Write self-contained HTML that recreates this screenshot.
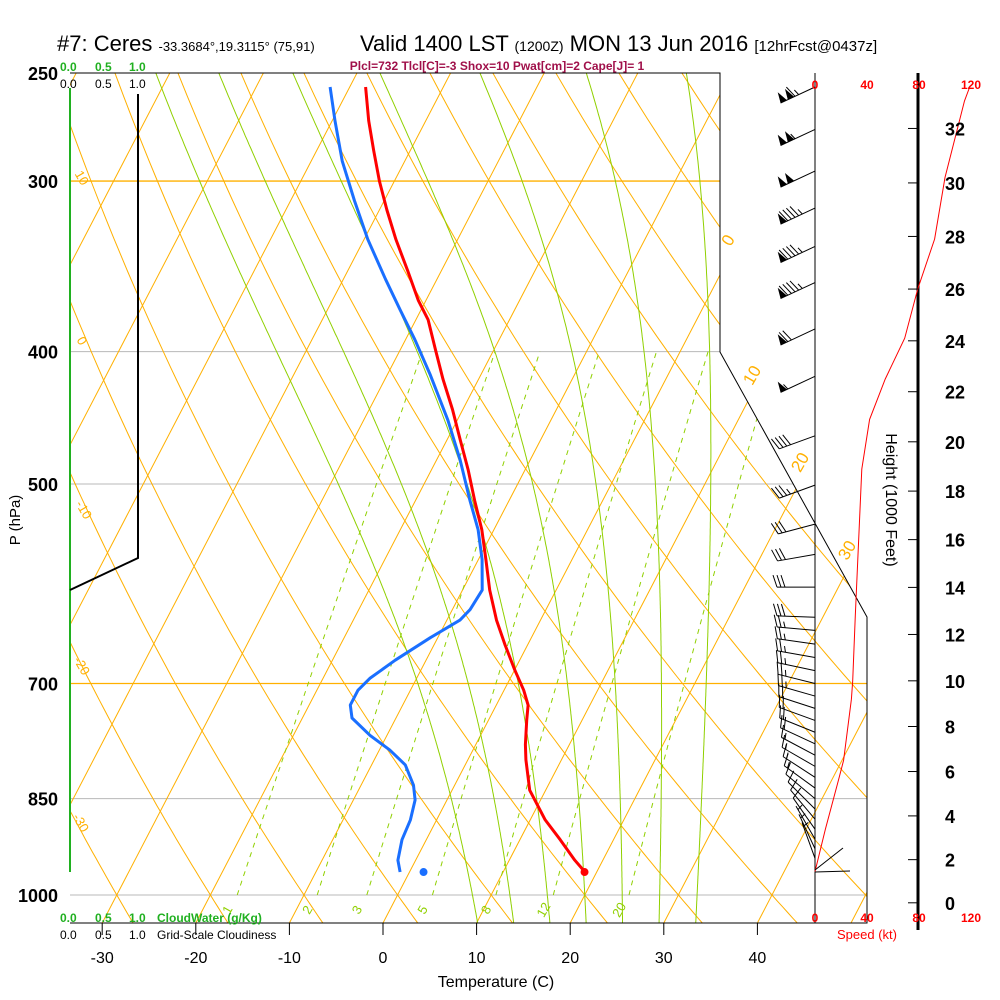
<!DOCTYPE html>
<html><head><meta charset="utf-8"><style>
html,body{margin:0;padding:0;background:#fff;}
svg{display:block;font-family:"Liberation Sans",Arial,sans-serif;}
</style></head><body>
<svg id="chart" width="1000" height="1000" viewBox="0 0 1000 1000" xmlns="http://www.w3.org/2000/svg">
<defs><clipPath id="plotclip"><polygon points="70,73 720,73 720,352 867,617 867,923 70,923"/></clipPath></defs>
<g>
<text x="57" y="51" font-size="22">#7: Ceres <tspan font-size="13">-33.3684°,19.3115° (75,91)</tspan></text>
<text x="360" y="51" font-size="22">Valid 1400 LST <tspan font-size="14">(1200Z)</tspan> MON 13 Jun 2016 <tspan font-size="15">[12hrFcst@0437z]</tspan></text>
<text x="497" y="70" font-size="12" font-weight="bold" fill="#a0104a" text-anchor="middle">Plcl=732 Tlcl[C]=-3 Shox=10 Pwat[cm]=2 Cape[J]= 1</text>
</g>
<g id="grid" clip-path="url(#plotclip)"></g>
<g id="frame">
<polyline points="70,73 720,73 720,352 867,617 867,923 70,923" fill="none" stroke="#000" stroke-width="1"/>
<line x1="815" y1="73" x2="815" y2="923" stroke="#000" stroke-width="1"/>
<line x1="918" y1="73" x2="918" y2="930" stroke="#000" stroke-width="3"/>
</g>
<g id="profiles"></g>
<g id="winds"></g>
<g id="axes"></g>
<g>
<text x="60" y="71" font-size="12" font-weight="bold" fill="#20b020">0.0</text>
<text x="95" y="71" font-size="12" font-weight="bold" fill="#20b020">0.5</text>
<text x="129" y="71" font-size="12" font-weight="bold" fill="#20b020">1.0</text>
<text x="60" y="88" font-size="12" fill="#000">0.0</text>
<text x="95" y="88" font-size="12" fill="#000">0.5</text>
<text x="129" y="88" font-size="12" fill="#000">1.0</text>
<line x1="70" y1="88" x2="70" y2="872" stroke="#20b020" stroke-width="2"/>
<polyline points="138,94 138,558 70,590" fill="none" stroke="#000" stroke-width="2"/>
<text x="60" y="922" font-size="12" font-weight="bold" fill="#20b020">0.0</text>
<text x="95" y="922" font-size="12" font-weight="bold" fill="#20b020">0.5</text>
<text x="129" y="922" font-size="12" font-weight="bold" fill="#20b020">1.0</text>
<text x="157" y="922" font-size="12" font-weight="bold" fill="#20b020">CloudWater (g/Kg)</text>
<text x="60" y="939" font-size="12" fill="#000">0.0</text>
<text x="95" y="939" font-size="12" fill="#000">0.5</text>
<text x="129" y="939" font-size="12" fill="#000">1.0</text>
<text x="157" y="939" font-size="12" fill="#000">Grid-Scale Cloudiness</text>
</g>
<script>
// ---- data ----
const tempP  = [962,943,911,881,838,796,776,745,726,708,684,656,629,598,568,540,514,488,464,441,419,399,379,367,349,331,315,300,285,271,256];
const tempT  = [18.75,17.0,14.3,11.6,8.3,6.2,5.3,4.1,3.4,2.1,0.0,-2.4,-4.7,-7.1,-9.2,-11.3,-13.7,-16.1,-18.6,-21.1,-23.8,-26.2,-28.7,-30.8,-33.6,-36.6,-39.2,-41.6,-43.9,-46.1,-48.3];
const dewP   = [962,943,911,881,852,831,803,783,764,742,726,708,694,673,648,629,618,598,568,540,514,480,449,416,392,373,354,331,310,290,271,256];
const dewT   = [-1.0,-1.9,-2.6,-2.8,-3.4,-4.4,-6.4,-8.9,-11.8,-14.7,-15.6,-15.6,-15.0,-13.3,-10.8,-8.6,-8.1,-7.9,-9.6,-11.7,-14.2,-17.5,-21.0,-25.4,-29.0,-32.2,-35.5,-39.6,-43.2,-46.7,-49.7,-52.1];
const sfcP = 962, sfcT = 18.7, sfcTd = 1.5;
const spdH   = [1.45,3.4,5.6,6.5,9.2,10.0,12.8,17.7,18.9,20.9,22.5,24.1,26.0,27.9,30.2,33.0,33.5];
const spdKt  = [0,8,18,22,28,29,31,35,36,42,54,69,79,92,100,115,119];
const barbP  = [256,275,295,314,335,356,385,417,461,501,535,563,595,626,640,655,670,685,700,715,730,745,760,775,790,805,820,835,850,865,880,895,910,925,940];
const barbDir= [245,245,245,245,245,245,245,245,250,250,255,260,270,272,275,278,280,282,284,286,288,290,292,295,298,300,303,306,310,315,320,325,330,335,340];
const barbSpd= [115,105,100,95,95,95,70,55,40,35,30,30,30,30,25,25,25,25,25,25,20,20,20,20,15,15,15,15,10,10,10,10,5,5,5];
const pLevels = [250,300,400,500,700,850,1000];
const tTicks  = [-30,-20,-10,0,10,20,30,40];
const hTicks  = [0,2,4,6,8,10,12,14,16,18,20,22,24,26,28,30,32];
const spdTicks= [0,40,80,120];
const isoT    = [-120,-110,-100,-90,-80,-70,-60,-50,-40,-30,-20,-10,0,10,20,30,40,50];
const thetaC  = [-40,-30,-20,-10,0,10,20,30,40,50,60,70,80,90,100,110,120,130,140,150,160,170,180];
const thetaW  = [8,12,16,20,24,28,32];
const mixR    = [1,2,3,5,8,12,20];

// ---- scales ----
const NS="http://www.w3.org/2000/svg";
function Y(p){return 895-593*Math.log(1000/p);}
function X(T,p){return 383+9.36*T+0.52*(923-Y(p));}
function hToP(hkft){const m=hkft*304.8;return 1013.25*Math.pow(1-m/44330,5.255);}
function HY(h){return Y(hToP(h));}
function SX(s){return 815+s*1.3;}
function mk(tag,attrs,parent){const e=document.createElementNS(NS,tag);for(const k in attrs)e.setAttribute(k,attrs[k]);parent.appendChild(e);return e;}
const grid=document.getElementById('grid'), prof=document.getElementById('profiles'), winds=document.getElementById('winds'), axes=document.getElementById('axes');
function pathFrom(pts){return pts.map((q,i)=>(i?'L':'M')+q[0].toFixed(1)+','+q[1].toFixed(1)).join(' ');}

pLevels.forEach(p=>{
  const orange=(p===300||p===700);
  if(p===250)return;
  const l=mk('line',{x1:70,y1:Y(p),x2:870,y2:Y(p),stroke:orange?'#ffb000':'#b8b8b8','stroke-width':orange?1.3:1},grid);
  
  
});
isoT.forEach(t=>{
  const l=mk('line',{x1:X(t,1100),y1:Y(1100),x2:X(t,240),y2:Y(240),stroke:'#ffb000','stroke-width':1},grid);
  
  
});
thetaC.forEach(th=>{
  const pts=[];for(let p=1100;p>=240;p-=10){const T=(th+273.15)*Math.pow(p/1000,0.2857)-273.15;pts.push([X(T,p),Y(p)]);}
  const e=mk('path',{d:pathFrom(pts),fill:'none',stroke:'#ffb000','stroke-width':1},grid);
  
  
});
function rs(T,p){const es=6.112*Math.exp(17.67*(T-273.15)/(T-29.65));return 0.622*es/(p-es);}
function dTdp(T,p){const r=rs(T,p);return (287*T+2.5e6*r)/(p*(1005+2.5e6*2.5e6*r*0.622/(287*T*T)));}
thetaW.forEach(tw=>{
  const up=[];let T=tw+273.15;
  for(let p=1000;p>=240;p-=2){up.push([X(T-273.15,p),Y(p)]);T+=dTdp(T,p)*(-2);}
  const dn=[];T=tw+273.15;
  for(let p=1000;p<=1100;p+=2){T+=dTdp(T,p)*2;dn.unshift([X(T-273.15,p+2),Y(p+2)]);}
  const e=mk('path',{d:pathFrom(dn.concat(up)),fill:'none',stroke:'#90d000','stroke-width':1},grid);
  
  
});
mixR.forEach(w=>{
  const pts=[];for(let p=1000;p>=400;p-=10){const e=w*p/(622+w);const L=Math.log(e/6.112);const Td=243.5*L/(17.67-L);pts.push([X(Td,p),Y(p)]);}
  const e=mk('path',{d:pathFrom(pts),fill:'none',stroke:'#90d000','stroke-width':1,'stroke-dasharray':'5,5'},grid);
  
  
  const e0=w*1000/(622+w),L0=Math.log(e0/6.112),Td0=243.5*L0/(17.67-L0);
  const lx=X(Td0,1000)-6, ly=912;
  const t=mk('text',{x:lx,y:ly,'font-size':13,fill:'#90d000','text-anchor':'middle',transform:'rotate(-60 '+lx+' '+ly+')'},axes);
  t.textContent=w;
  
  
});
[[0,733,243],[10,757,378],[20,805,465],[30,852,553]].forEach(a=>{
  const t=mk('text',{x:a[1],y:a[2],'font-size':17,fill:'#ffb000','text-anchor':'middle',transform:'rotate(-60 '+a[1]+' '+a[2]+')'},axes);
  t.textContent=a[0];
  
  
});
[[10,78,180],[0,78,343],[-10,80,512],[-20,78,668],[-30,77,825]].forEach(a=>{
  const t=mk('text',{x:a[1],y:a[2],'font-size':13,fill:'#ffb000','text-anchor':'middle',transform:'rotate(60 '+a[1]+' '+a[2]+')'},axes);
  t.textContent=a[0];
  
  
});

const tp=mk('path',{d:pathFrom(tempP.map((p,i)=>[X(tempT[i],p),Y(p)])),fill:'none',stroke:'#ff0000','stroke-width':3,'stroke-linejoin':'round'},prof);


const dp=mk('path',{d:pathFrom(dewP.map((p,i)=>[X(dewT[i],p),Y(p)])),fill:'none',stroke:'#1a6fff','stroke-width':3,'stroke-linejoin':'round'},prof);


const sd1=mk('circle',{cx:X(sfcT,sfcP),cy:Y(sfcP),r:4,fill:'#ff0000'},prof);


const sd2=mk('circle',{cx:X(sfcTd,sfcP),cy:Y(sfcP),r:4,fill:'#1a6fff'},prof);


const sp=mk('path',{d:pathFrom(spdH.map((h,i)=>[SX(spdKt[i]),HY(h)])),fill:'none',stroke:'#ff0000','stroke-width':1},prof);



barbP.forEach((p,i)=>{
  const d=barbDir[i]*Math.PI/180, s=barbSpd[i];
  const ux=Math.sin(d), uy=-Math.cos(d);
  const bx=815, by=Y(p), L=38;
  const tx=bx+ux*L, ty=by+uy*L;
  const g=mk('g',{},winds);
  
  
  mk('line',{x1:bx,y1:by,x2:tx,y2:ty,stroke:'#000','stroke-width':1},g);
  let px=-uy, py=ux; if(py>0){px=-px;py=-py;}
  let rem=Math.round(s/5)*5, pos=0;
  const step=4;
  function pt(k){return [tx-ux*k, ty-uy*k];}
  while(rem>=50){const a=pt(pos),b=pt(pos+7);const c=[a[0]+px*11-ux*2,a[1]+py*11-uy*2];
    mk('polygon',{points:a.join(',')+' '+b.join(',')+' '+c.join(','),fill:'#000'},g);pos+=8;rem-=50;}
  while(rem>=10){const a=pt(pos);mk('line',{x1:a[0],y1:a[1],x2:a[0]+px*12+ux*4,y2:a[1]+py*12+uy*4,stroke:'#000','stroke-width':1},g);pos+=step;rem-=10;}
  if(rem>=5){if(pos===0)pos=step;const a=pt(pos);mk('line',{x1:a[0],y1:a[1],x2:a[0]+px*6+ux*2,y2:a[1]+py*6+uy*2,stroke:'#000','stroke-width':1},g);}
});
mk('line',{x1:815,y1:872,x2:850,y2:871,stroke:'#000','stroke-width':1},winds);
mk('line',{x1:815,y1:870,x2:843,y2:848,stroke:'#000','stroke-width':1},winds);

pLevels.forEach(p=>{
  const t=mk('text',{x:58,y:Y(p)+7,'font-size':18,'font-weight':'bold','text-anchor':'end',fill:'#000'},axes);
  t.textContent=p;
  
  
});
const pl=mk('text',{x:20,y:520,'font-size':15,'text-anchor':'middle',transform:'rotate(-90 20 520)'},axes);
pl.textContent='P (hPa)';


tTicks.forEach(t=>{
  const x=383+9.36*t;
  mk('line',{x1:x,y1:923,x2:x,y2:935,stroke:'#000','stroke-width':1},axes);
  const e=mk('text',{x:x,y:963,'font-size':16,'text-anchor':'middle'},axes);
  e.textContent=t;
  
  
});
const xt=mk('text',{x:496,y:987,'font-size':16,'text-anchor':'middle'},axes);
xt.textContent='Temperature (C)';


hTicks.forEach(h=>{
  const y=HY(h);
  mk('line',{x1:908,y1:y,x2:918,y2:y,stroke:'#000','stroke-width':1},axes);
  const e=mk('text',{x:945,y:y+7,'font-size':18,'font-weight':'bold','text-anchor':'start'},axes);
  e.textContent=h;
  
  
});
const ht=mk('text',{x:886,y:500,'font-size':16,'text-anchor':'middle',transform:'rotate(90 886 500)'},axes);
ht.textContent='Height (1000 Feet)';


spdTicks.forEach(s=>{
  [89,922].forEach(y=>{
    const e=mk('text',{x:SX(s),y:y,'font-size':12,'font-weight':'bold','text-anchor':'middle',fill:'#ff0000'},axes);
    e.textContent=s;
    
    
  });
});
const st=mk('text',{x:867,y:939,'font-size':13,'text-anchor':'middle',fill:'#ff0000'},axes);
st.textContent='Speed (kt)';


</script>
</svg>
</body></html>
